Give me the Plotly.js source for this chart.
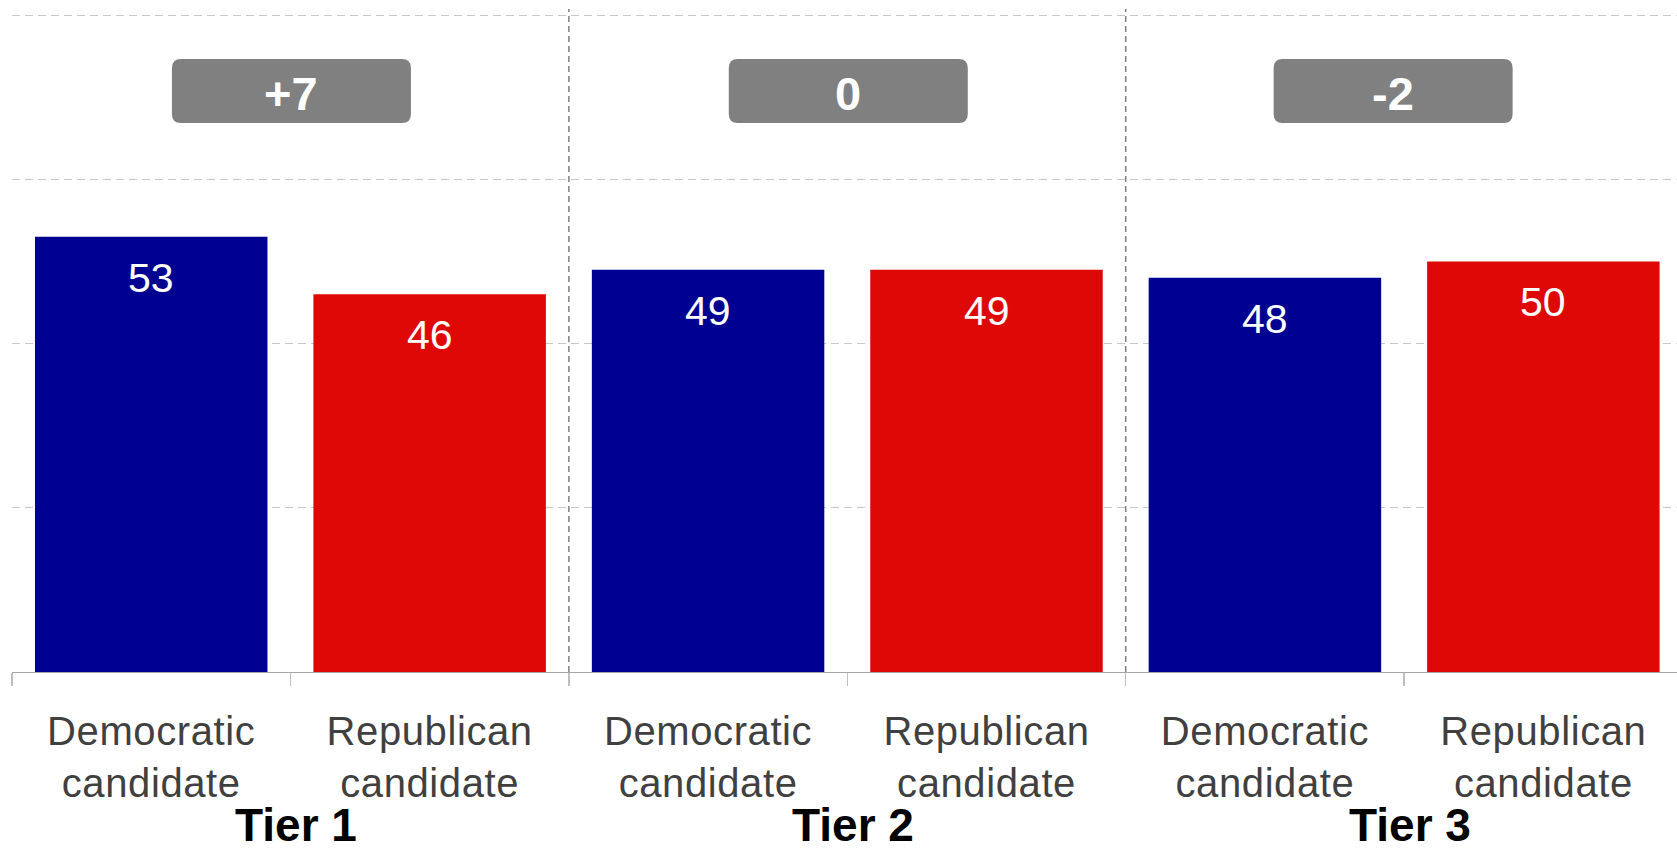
<!DOCTYPE html>
<html>
<head>
<meta charset="utf-8">
<script src="https://cdn.plot.ly/plotly-3.0.1.min.js"></script>
<style>
  html, body { margin: 0; padding: 0; background: #ffffff; }
  #chart { width: 1677px; height: 853px; }
  .xtick text { letter-spacing: 0.6px; }
</style>
</head>
<body>
<div id="chart"></div>
<script>
// ---- data ----
const tiers = ["Tier 1", "Tier 2", "Tier 3"];
const candidateLabels = ["Democratic<br>candidate", "Republican<br>candidate"];
const demValues = [53, 49, 48];
const repValues = [46, 49, 50];
const netLabels = ["+7", "0", "-2"];

// ---- styling ----
const FONT = "Liberation Sans, Arial, Helvetica, sans-serif";
const DEM_COLOR = "#000091";
const REP_COLOR = "#de0907";
const BADGE_COLOR = "#808080";
const badgeXShift = [1, 1, -11];

// positions derived from the category order (two candidates per tier)
const demX = tiers.map((t, i) => 2 * i);
const repX = tiers.map((t, i) => 2 * i + 1);
const tickVals = [];
const tickText = [];
tiers.forEach((t, i) => {
  candidateLabels.forEach((c, j) => { tickVals.push(2 * i + j); tickText.push(c); });
});
const boundaryVals = [];
for (let k = 0; k <= tickVals.length; k++) boundaryVals.push(k - 0.5);

const barWidth = 0.835;

const traces = [
  { type: "bar", x: demX, y: demValues, width: barWidth,
    marker: { color: DEM_COLOR, line: { width: 0 } }, hoverinfo: "y", showlegend: false },
  { type: "bar", x: repX, y: repValues, width: barWidth,
    marker: { color: REP_COLOR, line: { width: 0 } }, hoverinfo: "y", showlegend: false }
];

const annotations = [];
const shapes = [];

// value labels inside bars
function valueLabel(x, v) {
  return { x: x, y: v, xref: "x", yref: "y", text: String(v), showarrow: false,
    yanchor: "top", yshift: -16, font: { family: FONT, size: 41, color: "#ffffff" } };
}
demValues.forEach((v, i) => annotations.push(valueLabel(demX[i], v)));
repValues.forEach((v, i) => annotations.push(valueLabel(repX[i], v)));

// badges and tier labels
function roundedRect(w, h, r) {
  const x0 = -w / 2, x1 = w / 2, y0 = -h / 2, y1 = h / 2;
  return `M ${x0 + r},${y0} L ${x1 - r},${y0} Q ${x1},${y0} ${x1},${y0 + r} ` +
         `L ${x1},${y1 - r} Q ${x1},${y1} ${x1 - r},${y1} L ${x0 + r},${y1} ` +
         `Q ${x0},${y1} ${x0},${y1 - r} L ${x0},${y0 + r} Q ${x0},${y0} ${x0 + r},${y0} Z`;
}
const badgeY = 70.75;
tiers.forEach((t, i) => {
  const cx = 2 * i + 0.5;
  const sh = badgeXShift[i];
  const w = 239, h = 64, r = 9;
  const p = roundedRect(w, h, r).replace(/(-?[\d.]+),/g, (m, n) => (parseFloat(n) + sh) + ",");
  shapes.push({ type: "path", xref: "x", yref: "y", xsizemode: "pixel", ysizemode: "pixel",
    xanchor: cx, yanchor: badgeY, path: p, fillcolor: BADGE_COLOR,
    line: { width: 0 }, layer: "above" });
  annotations.push({ x: cx, y: badgeY, xref: "x", yref: "y", xshift: sh, yshift: -2,
    text: "<b>" + netLabels[i] + "</b>",
    showarrow: false, xanchor: "center", yanchor: "middle",
    font: { family: FONT, size: 47, color: "#ffffff" } });
  annotations.push({ x: cx, y: 0, xref: "x", yref: "paper", xshift: 6, yshift: -153,
    text: "<b>" + t + "</b>",
    showarrow: false, xanchor: "center", yanchor: "middle",
    font: { family: FONT, size: 46, color: "#000000" } });
});

// dashed separators between tiers
for (let i = 1; i < tiers.length; i++) {
  shapes.push({ type: "line", xref: "x", yref: "paper", x0: 2 * i - 0.5, x1: 2 * i - 0.5,
    y0: 0, y1: 1.003, line: { color: "#7f7f7f", width: 1.5, dash: "6px,4px" }, layer: "below" });
}

const layout = {
  width: 1677, height: 853,
  margin: { l: 12, r: 0, t: 11, b: 181, pad: 0 },
  paper_bgcolor: "#ffffff", plot_bgcolor: "#ffffff",
  barmode: "overlay",
  showlegend: false,
  xaxis: {
    type: "linear", range: [-0.5, 5.48],
    tickmode: "array", tickvals: tickVals, ticktext: tickText,
    ticks: "", ticklabelstandoff: 24,
    tickfont: { family: FONT, size: 40, color: "#404040" },
    showgrid: false, zeroline: false,
    showline: true, linecolor: "#a6a6a6", linewidth: 1,
    minor: { tickmode: "array", tickvals: boundaryVals, ticks: "outside", ticklen: 13,
             tickcolor: "#bfbfbf", tickwidth: 1.5, showgrid: false },
    fixedrange: true
  },
  yaxis: {
    range: [0, 80.5], tickmode: "linear", tick0: 0, dtick: 20,
    showticklabels: false, ticks: "",
    showgrid: true, gridcolor: "#c8c8c8", gridwidth: 1, griddash: "8px,5px",
    zeroline: false, showline: false, fixedrange: true
  },
  annotations: annotations,
  shapes: shapes
};

Plotly.newPlot("chart", traces, layout, { displayModeBar: false, staticPlot: true });
</script>
</body>
</html>
